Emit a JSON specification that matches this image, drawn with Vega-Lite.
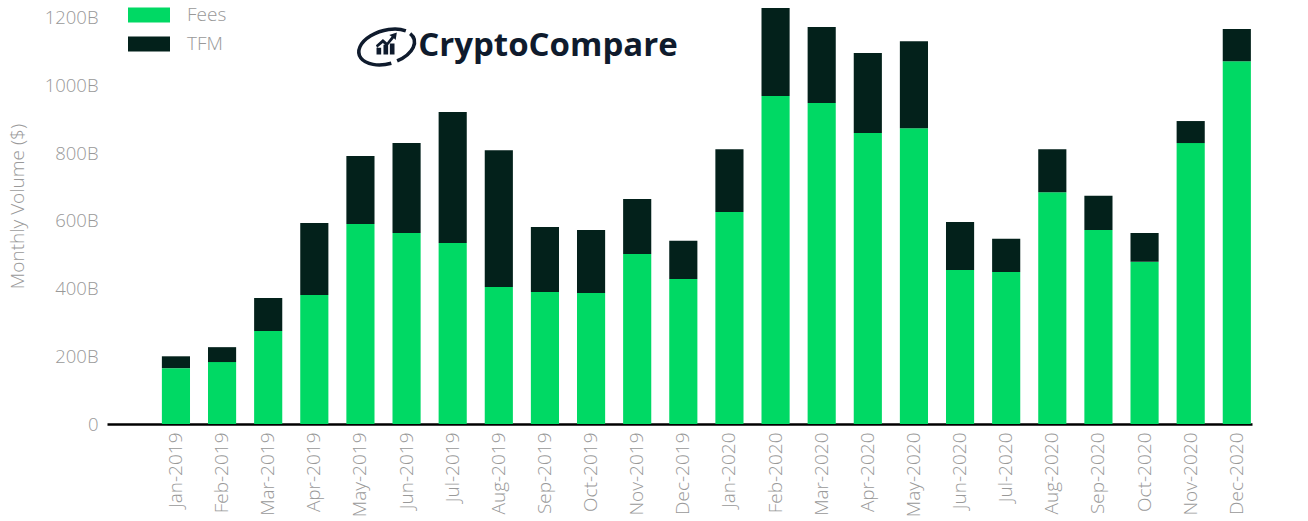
{"$schema":"https://vega.github.io/schema/vega-lite/v6.json","width":1145,"height":424,"autosize":"none","padding":{"left":107,"top":0,"right":56,"bottom":97},"background":"white","view":{"stroke":null},"config":{"font":"Open Sans"},"layer":[{"data":{"values":[{"month":"Jan-2019","series":"Fees","rank":1,"volume":165},{"month":"Jan-2019","series":"TFM","rank":2,"volume":35},{"month":"Feb-2019","series":"Fees","rank":1,"volume":183},{"month":"Feb-2019","series":"TFM","rank":2,"volume":44},{"month":"Mar-2019","series":"Fees","rank":1,"volume":275},{"month":"Mar-2019","series":"TFM","rank":2,"volume":97},{"month":"Apr-2019","series":"Fees","rank":1,"volume":381},{"month":"Apr-2019","series":"TFM","rank":2,"volume":213},{"month":"May-2019","series":"Fees","rank":1,"volume":591},{"month":"May-2019","series":"TFM","rank":2,"volume":201},{"month":"Jun-2019","series":"Fees","rank":1,"volume":564},{"month":"Jun-2019","series":"TFM","rank":2,"volume":266},{"month":"Jul-2019","series":"Fees","rank":1,"volume":535},{"month":"Jul-2019","series":"TFM","rank":2,"volume":387},{"month":"Aug-2019","series":"Fees","rank":1,"volume":405},{"month":"Aug-2019","series":"TFM","rank":2,"volume":404},{"month":"Sep-2019","series":"Fees","rank":1,"volume":390},{"month":"Sep-2019","series":"TFM","rank":2,"volume":192},{"month":"Oct-2019","series":"Fees","rank":1,"volume":387},{"month":"Oct-2019","series":"TFM","rank":2,"volume":186},{"month":"Nov-2019","series":"Fees","rank":1,"volume":502},{"month":"Nov-2019","series":"TFM","rank":2,"volume":163},{"month":"Dec-2019","series":"Fees","rank":1,"volume":428},{"month":"Dec-2019","series":"TFM","rank":2,"volume":113},{"month":"Jan-2020","series":"Fees","rank":1,"volume":626},{"month":"Jan-2020","series":"TFM","rank":2,"volume":186},{"month":"Feb-2020","series":"Fees","rank":1,"volume":969},{"month":"Feb-2020","series":"TFM","rank":2,"volume":260},{"month":"Mar-2020","series":"Fees","rank":1,"volume":948},{"month":"Mar-2020","series":"TFM","rank":2,"volume":225},{"month":"Apr-2020","series":"Fees","rank":1,"volume":860},{"month":"Apr-2020","series":"TFM","rank":2,"volume":236},{"month":"May-2020","series":"Fees","rank":1,"volume":874},{"month":"May-2020","series":"TFM","rank":2,"volume":257},{"month":"Jun-2020","series":"Fees","rank":1,"volume":455},{"month":"Jun-2020","series":"TFM","rank":2,"volume":142},{"month":"Jul-2020","series":"Fees","rank":1,"volume":449},{"month":"Jul-2020","series":"TFM","rank":2,"volume":98},{"month":"Aug-2020","series":"Fees","rank":1,"volume":685},{"month":"Aug-2020","series":"TFM","rank":2,"volume":127},{"month":"Sep-2020","series":"Fees","rank":1,"volume":573},{"month":"Sep-2020","series":"TFM","rank":2,"volume":101},{"month":"Oct-2020","series":"Fees","rank":1,"volume":479},{"month":"Oct-2020","series":"TFM","rank":2,"volume":85},{"month":"Nov-2020","series":"Fees","rank":1,"volume":830},{"month":"Nov-2020","series":"TFM","rank":2,"volume":65},{"month":"Dec-2020","series":"Fees","rank":1,"volume":1072},{"month":"Dec-2020","series":"TFM","rank":2,"volume":95}]},"mark":{"type":"bar","stroke":null},"encoding":{"x":{"field":"month","type":"nominal","sort":null,"scale":{"domain":["Jan-2019","Feb-2019","Mar-2019","Apr-2019","May-2019","Jun-2019","Jul-2019","Aug-2019","Sep-2019","Oct-2019","Nov-2019","Dec-2019","Jan-2020","Feb-2020","Mar-2020","Apr-2020","May-2020","Jun-2020","Jul-2020","Aug-2020","Sep-2020","Oct-2020","Nov-2020","Dec-2020"],"paddingInner":0.39,"paddingOuter":0.607,"align":0.98},"axis":{"title":null,"ticks":false,"domainColor":"#000000","domainWidth":2.5,"labelAngle":-90,"labelFontSize":19,"labelColor":"#999999","labelPadding":8,"labelOverlap":false,"labelFont":"Open Sans","labelFontWeight":300}},"y":{"field":"volume","type":"quantitative","stack":"zero","scale":{"domain":[0,1252.6],"nice":false},"axis":{"values":[0,200,400,600,800,1000,1200],"labelExpr":"datum.value === 0 ? '0' : datum.value + 'B'","title":"Monthly Volume ($)","titleFontSize":19,"titleFontWeight":300,"titleColor":"#999999","titleFont":"Open Sans","titleX":-80,"titleY":206,"domain":false,"ticks":false,"grid":false,"labelFontSize":18.5,"labelColor":"#999999","labelPadding":9,"labelFont":"Open Sans","labelFontWeight":300}},"color":{"field":"series","type":"nominal","scale":{"domain":["Fees","TFM"],"range":["#00D964","#03211B"]},"legend":{"title":null,"orient":"none","legendX":27,"legendY":0,"direction":"vertical","symbolType":"M-1.4,-0.5H1.4V0.5H-1.4Z","symbolSize":900,"symbolStrokeWidth":0,"rowPadding":4,"labelFontSize":19,"labelColor":"#999999","labelFont":"Open Sans","labelFontWeight":300,"labelOffset":23}},"order":{"field":"rank","type":"quantitative"}}},{"data":{"values":[{"month":"Sep-2019","volume":1118,"label":"CryptoCompare"}]},"mark":{"type":"text","font":"Open Sans","fontWeight":700,"fontSize":33,"color":"#0F1B2D","dx":3,"align":"center","baseline":"middle"},"encoding":{"x":{"field":"month","type":"nominal","sort":null},"y":{"field":"volume","type":"quantitative"},"text":{"field":"label"}}},{"data":{"values":[{"month":"Jun-2019","volume":1117}]},"mark":{"type":"point","filled":false,"stroke":"#0F1B2D","strokeWidth":3.5,"size":3364,"opacity":1,"xOffset":-19.6,"shape":"M0.15,0.6A1,0.58,-15,1,1,0.65,-0.52M0.8,-0.42A1,0.58,-15,0,1,0.35,0.52"},"encoding":{"x":{"field":"month","type":"nominal","sort":null},"y":{"field":"volume","type":"quantitative"}}},{"data":{"values":[{"month":"Jun-2019","volume":1117}]},"mark":{"type":"point","filled":true,"fill":"#0F1B2D","stroke":null,"size":3364,"opacity":1,"xOffset":-19.6,"shape":"M-0.36,0.3V0.06H-0.2V0.3ZM-0.12,0.3V-0.04H0.04V0.3ZM0.1,0.3V-0.08H0.26V0.3ZM-0.38,-0.02L-0.14,-0.24L0,-0.12L0.16,-0.32L0.08,-0.38L0.34,-0.46L0.3,-0.2L0.24,-0.26L0,0.02L-0.14,-0.1L-0.34,0.06Z"},"encoding":{"x":{"field":"month","type":"nominal","sort":null},"y":{"field":"volume","type":"quantitative"}}}]}
